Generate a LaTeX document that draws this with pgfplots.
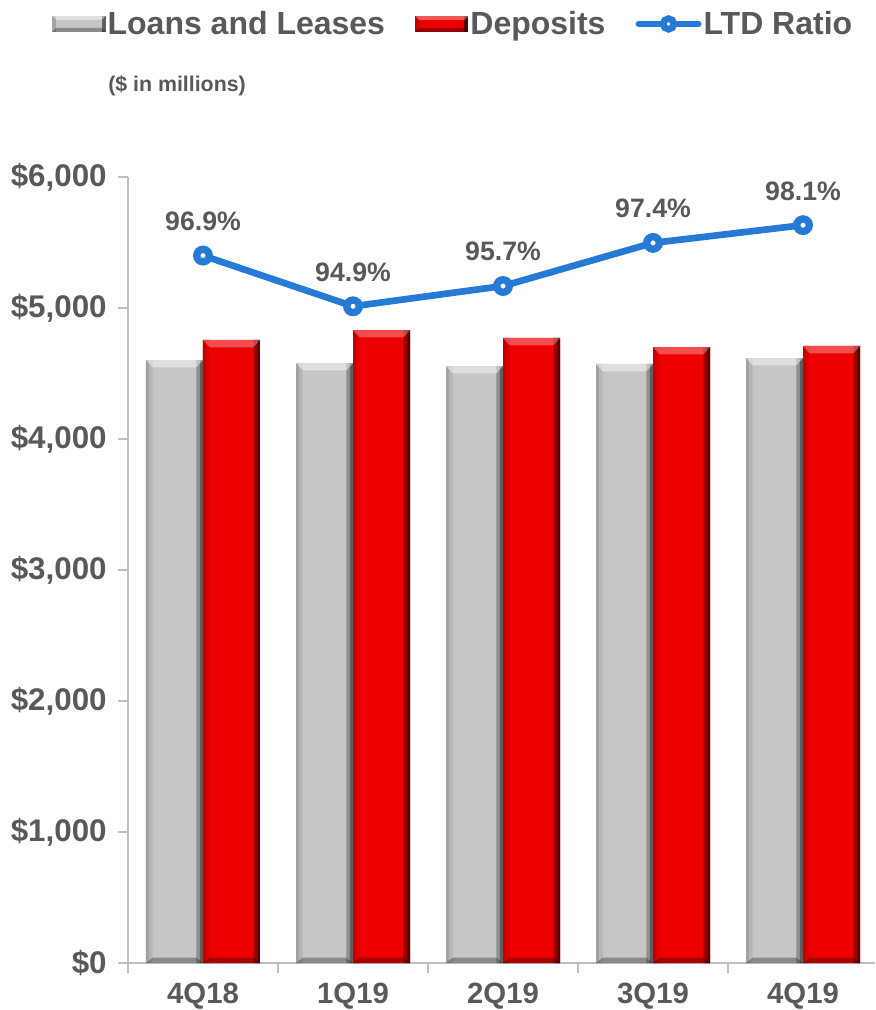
\documentclass[border=0pt]{standalone}
\usepackage{pgfplots}
\usepackage{pgfplotstable}
\pgfplotsset{compat=1.18}
\usepackage{fontspec}
\setmainfont{Liberation Sans}
\definecolor{txt}{HTML}{595959}
\definecolor{axl}{HTML}{BFBFBF}
\definecolor{gbar}{HTML}{C6C6C6}
\definecolor{gL1}{HTML}{A2A2A2}
\definecolor{gL2}{HTML}{B6B6B6}
\definecolor{gR1}{HTML}{5E5E5E}
\definecolor{gR2}{HTML}{909090}
\definecolor{rbar}{HTML}{EE0000}
\definecolor{rL1}{HTML}{C40000}
\definecolor{rL2}{HTML}{DA0000}
\definecolor{rR1}{HTML}{5A0000}
\definecolor{rR2}{HTML}{A00000}
\definecolor{lblue}{HTML}{2679D4}
\pgfplotstableread{
x    loans deposits ratio
0    4603  4756     96.9
1    4580  4832     94.9
2    4557  4771     95.7
3    4573  4702     97.4
4    4618  4710     98.1
}\datatable
\pgfdeclareplotmark{bevtop}{%
  \pgfpathmoveto{\pgfqpoint{-21.375pt}{0pt}}%
  \pgfpathlineto{\pgfqpoint{21.375pt}{0pt}}%
  \pgfpathlineto{\pgfqpoint{16.4pt}{-5.5pt}}%
  \pgfpathlineto{\pgfqpoint{-16.4pt}{-5.5pt}}%
  \pgfpathclose\pgfusepathqfill}
\pgfdeclareplotmark{bevbot}{%
  \pgfpathmoveto{\pgfqpoint{-21.375pt}{0pt}}%
  \pgfpathlineto{\pgfqpoint{21.375pt}{0pt}}%
  \pgfpathlineto{\pgfqpoint{16.4pt}{4pt}}%
  \pgfpathlineto{\pgfqpoint{-16.4pt}{4pt}}%
  \pgfpathclose\pgfusepathqfill}
\pgfplotsset{strip/.style={forget plot, ybar, bar width=0.0222, draw=none}}
\begin{document}
\begin{tikzpicture}
\useasboundingbox (-96pt,-35.25pt) rectangle (560.25pt,722.25pt);
\begin{axis}[
  scale only axis,
  width=560.25pt, height=589.5pt,
  xmin=-0.5, xmax=4.48,
  ymin=0, ymax=6000,
  axis x line*=bottom, axis y line*=left,
  axis line style={axl, line width=0.8pt},
  every tick/.style={axl, line width=0.8pt},
  tick align=outside,
  major tick length=7.5pt,
  ytick={0,1000,...,6000},
  yticklabels={{\$0},{\$1,000},{\$2,000},{\$3,000},{\$4,000},{\$5,000},{\$6,000}},
  yticklabel style={font=\fontsize{23.5}{26}\selectfont\bfseries, text=txt, xshift=-5pt},
  xtick={-0.5,0.5,1.5,2.5,3.5},
  xticklabels={},
  extra x ticks={0,1,2,3,4},
  extra x tick labels={4Q18,1Q19,2Q19,3Q19,4Q19},
  extra x tick style={major tick length=0pt, tick label style={font=\fontsize{22}{24}\selectfont\bfseries, text=txt, inner sep=1pt, yshift=-13.5pt}},
  clip=false,
  legend style={at={(axis description cs:-0.1017,1.1947)}, anchor=west, draw=none, fill=none,
    font=\fontsize{24}{26}\selectfont\bfseries, text=txt, inner sep=0pt,
    nodes={inner sep=1.5pt},
    /tikz/every even column/.append style={column sep=21pt}},
  legend columns=3,
  legend cell align=left,
]
\addplot[ybar, bar width=0.38, bar shift=-0.19, fill=gbar, draw=none,
  legend image code/.code={\fill[gbar] (0pt,-6pt) rectangle (40pt,6pt);
    \fill[gL1] (0pt,-6pt) rectangle (3pt,6pt);
    \fill[gR1] (37pt,-6pt) rectangle (40pt,6pt);
    \fill[white,opacity=0.45] (0pt,6pt) -- (40pt,6pt) -- (37pt,3pt) -- (3pt,3pt) -- cycle;
    \fill[black,opacity=0.3] (0pt,-6pt) -- (40pt,-6pt) -- (37pt,-3pt) -- (3pt,-3pt) -- cycle;}]
  table[x=x, y=loans] {\datatable};
\addlegendentry{Loans and Leases}
\addplot[ybar, bar width=0.38, bar shift=0.19, fill=rbar, draw=none,
  legend image code/.code={\fill[rbar] (0pt,-6pt) rectangle (40pt,6pt);
    \fill[rL1] (0pt,-6pt) rectangle (3pt,6pt);
    \fill[rR1] (37pt,-6pt) rectangle (40pt,6pt);
    \fill[white,opacity=0.35] (0pt,6pt) -- (40pt,6pt) -- (37pt,3pt) -- (3pt,3pt) -- cycle;
    \fill[black,opacity=0.35] (0pt,-6pt) -- (40pt,-6pt) -- (37pt,-3pt) -- (3pt,-3pt) -- cycle;}]
  table[x=x, y=deposits] {\datatable};
\addlegendentry{Deposits}
\addlegendimage{legend image code/.code={
  \draw[lblue, line width=4.5pt, line cap=round] (0pt,0pt) -- (45pt,0pt);
  \draw[lblue, line width=5pt, fill=white] (22.5pt,0pt) circle (4pt);}}
\addlegendentry{LTD Ratio}
% side bevels (grey bars span -0.38..0, red bars 0..0.38 around each category)
\addplot[strip, fill=gL1, bar shift=-0.3689] table[x=x, y=loans] {\datatable};
\addplot[strip, fill=gL2, bar shift=-0.3467] table[x=x, y=loans] {\datatable};
\addplot[strip, fill=gR2, bar shift=-0.0333] table[x=x, y=loans] {\datatable};
\addplot[strip, fill=gR1, bar shift=-0.0111] table[x=x, y=loans] {\datatable};
\addplot[strip, fill=rL1, bar shift=0.0111] table[x=x, y=deposits] {\datatable};
\addplot[strip, fill=rL2, bar shift=0.0333] table[x=x, y=deposits] {\datatable};
\addplot[strip, fill=rR2, bar shift=0.3467] table[x=x, y=deposits] {\datatable};
\addplot[strip, fill=rR1, bar shift=0.3689] table[x=x, y=deposits] {\datatable};
% bevel highlights on bar tops and shadows at bar bottoms
\addplot[forget plot, only marks, mark=bevtop, mark options={fill=white, draw=none, opacity=0.45}]
  table[x expr=\thisrow{x}-0.19, y=loans] {\datatable};
\addplot[forget plot, only marks, mark=bevtop, mark options={fill=white, draw=none, opacity=0.3}]
  table[x expr=\thisrow{x}+0.19, y=deposits] {\datatable};
\addplot[forget plot, only marks, mark=bevbot, mark options={fill=black, draw=none, opacity=0.3}]
  table[x expr=\thisrow{x}-0.19, y expr=0] {\datatable};
\addplot[forget plot, only marks, mark=bevbot, mark options={fill=black, draw=none, opacity=0.3}]
  table[x expr=\thisrow{x}+0.19, y expr=0] {\datatable};
\end{axis}
\begin{axis}[
  scale only axis,
  width=560.25pt, height=589.5pt,
  xmin=-0.5, xmax=4.48,
  ymin=69, ymax=100,
  hide axis,
  clip=false,
  /pgf/number format/assume math mode=true,
  nodes near coords={\pgfmathprintnumber[fixed,fixed zerofill,precision=1]{\pgfplotspointmeta}\%},
  nodes near coords style={font=\fontsize{20}{22}\selectfont\bfseries, text=txt, anchor=south, yshift=12.5pt},
]
\addplot[lblue, line width=5pt, mark=*, mark size=4.7pt, mark options={fill=white, draw=lblue, line width=5.5pt}, point meta=y]
  table[x=x, y=ratio] {\datatable};
\end{axis}
\node[anchor=west, font=\fontsize{16}{18}\selectfont\bfseries, text=txt, inner sep=0pt] at (-15pt,657.75pt) {(\$ in millions)};
\end{tikzpicture}
\end{document}
